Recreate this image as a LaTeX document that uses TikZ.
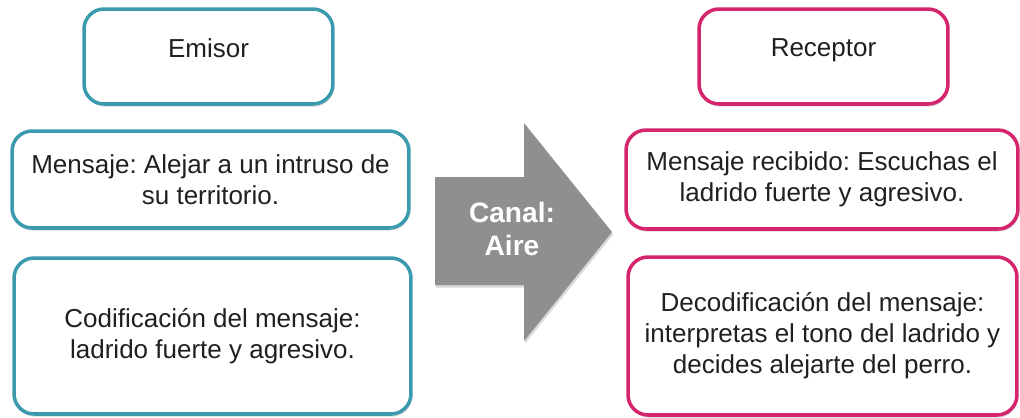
\documentclass[tikz,border=0pt]{standalone}
\usepackage{fontspec}
\setmainfont{Liberation Sans}
\usetikzlibrary{shadows}
\definecolor{azulverde}{HTML}{3B9AAE}
\definecolor{rosa}{HTML}{D6246E}
\definecolor{gris}{HTML}{8F8F8F}
\definecolor{texto}{HTML}{231F20}
\frenchspacing

\begin{document}
\begin{tikzpicture}[x=0.02cm,y=-0.02cm,
    caja/.style={draw, line width=2pt, rounded corners=0.4cm, fill=white,
        align=center, text=texto, inner sep=0pt,
        font=\fontsize{14.8}{17.6}\selectfont,
        drop shadow={shadow xshift=0.6pt, shadow yshift=-1.5pt, opacity=0.3}},
    emisorbox/.style={caja, draw=azulverde},
    receptorbox/.style={caja, draw=rosa}]
        \useasboundingbox (0,0) rectangle (1020,417);

        % lado del emisor
        \node[emisorbox, minimum width=4.98cm, minimum height=1.9cm, text depth=10pt] (emisor) at (208.5,56.5) {Emisor};
        \node[emisorbox, minimum width=7.94cm, minimum height=1.94cm] (mensaje) at (210.5,179.5)
            {Mensaje: Alejar a un intruso de\\su territorio.};
        \node[emisorbox, minimum width=7.94cm, minimum height=3.12cm] (codif) at (212.5,336)
            {Codificación del mensaje:\\ladrido fuerte y agresivo.};

        % canal
        \fill[gris, drop shadow={shadow xshift=0.6pt, shadow yshift=-1.5pt, opacity=0.3}]
            (435,177) -- (524,177) -- (524,123) -- (612,232) -- (524,341) -- (524,285) -- (435,285) -- cycle;
        \node[font=\bfseries\fontsize{16}{18.8}\selectfont, text=white, align=center] (canal) at (512,229) {Canal:\\Aire};

        % lado del receptor
        \node[receptorbox, minimum width=4.98cm, minimum height=1.9cm, text depth=10pt] (receptor) at (823.5,56.5) {Receptor};
        \node[receptorbox, minimum width=7.84cm, minimum height=1.98cm] (recibido) at (822,179.5)
            {Mensaje recibido: Escuchas el\\ladrido fuerte y agresivo.};
        \node[receptorbox, minimum width=7.78cm, minimum height=3.16cm] (decod) at (822.5,336)
            {Decodificación del mensaje:\\interpretas el tono del ladrido y\\decides alejarte del perro.};
\end{tikzpicture}
\end{document}
